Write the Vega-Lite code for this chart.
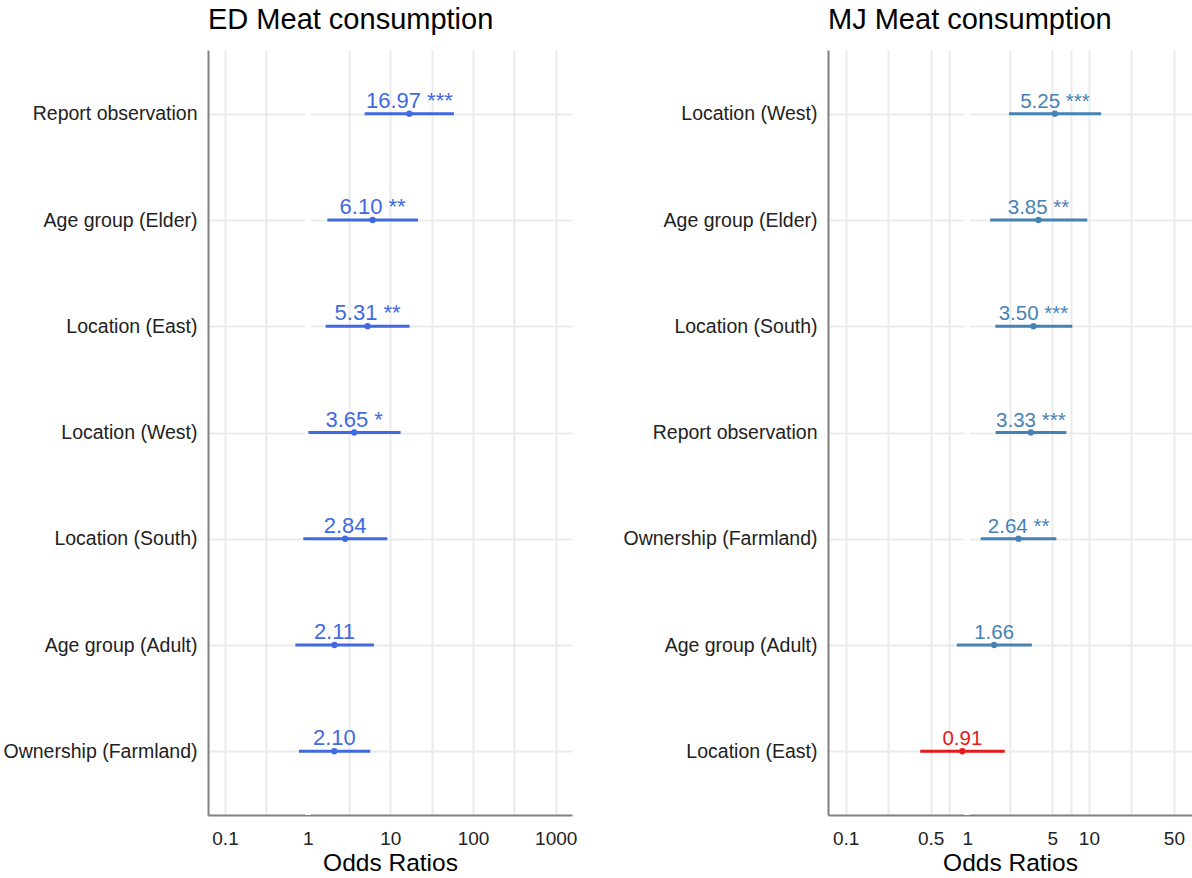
{
  "$schema": "https://vega.github.io/schema/vega-lite/v6.json",
  "background": "white",
  "padding": {"left": 3, "top": 5, "right": 0, "bottom": 5},
  "autosize": {"type": "pad"},
  "datasets": {
    "ed": [
      {"term": "Report observation", "or": 16.97, "lo": 4.89, "hi": 58.7, "label": "16.97 ***"},
      {"term": "Age group (Elder)", "or": 6.10, "lo": 1.73, "hi": 21.6, "label": "6.10 **"},
      {"term": "Location (East)", "or": 5.31, "lo": 1.65, "hi": 17.1, "label": "5.31 **"},
      {"term": "Location (West)", "or": 3.65, "lo": 1.02, "hi": 13.3, "label": "3.65 *"},
      {"term": "Location (South)", "or": 2.84, "lo": 0.885, "hi": 9.17, "label": "2.84"},
      {"term": "Age group (Adult)", "or": 2.11, "lo": 0.71, "hi": 6.33, "label": "2.11"},
      {"term": "Ownership (Farmland)", "or": 2.10, "lo": 0.785, "hi": 5.71, "label": "2.10"}
    ],
    "mj": [
      {"term": "Location (West)", "or": 5.25, "lo": 2.20, "hi": 12.6, "label": "5.25 ***"},
      {"term": "Age group (Elder)", "or": 3.85, "lo": 1.54, "hi": 9.70, "label": "3.85 **"},
      {"term": "Location (South)", "or": 3.50, "lo": 1.70, "hi": 7.30, "label": "3.50 ***"},
      {"term": "Report observation", "or": 3.33, "lo": 1.71, "hi": 6.52, "label": "3.33 ***"},
      {"term": "Ownership (Farmland)", "or": 2.64, "lo": 1.29, "hi": 5.39, "label": "2.64 **"},
      {"term": "Age group (Adult)", "or": 1.66, "lo": 0.82, "hi": 3.39, "label": "1.66"},
      {"term": "Location (East)", "or": 0.91, "lo": 0.41, "hi": 2.03, "label": "0.91"}
    ]
  },
  "config": {
    "font": "Liberation Sans",
    "view": {"stroke": null},
    "axis": {
      "domainColor": "#808080",
      "domainWidth": 2,
      "grid": true,
      "gridColor": "#ebebeb",
      "gridWidth": 2,
      "ticks": false,
      "tickSize": 0,
      "labelColor": "#222222",
      "labelFont": "Liberation Sans",
      "titleFont": "Liberation Sans",
      "titleColor": "#000000",
      "titleFontWeight": "normal"
    },
    "title": {
      "font": "Liberation Sans",
      "fontSize": 29,
      "fontWeight": "normal",
      "color": "#000000",
      "anchor": "start",
      "frame": "group",
      "baseline": "alphabetic",
      "offset": 13
    }
  },
  "bounds": "flush",
  "spacing": 256,
  "hconcat": [
    {
      "title": {"text": "ED Meat consumption", "anchor": "start", "frame": "group"},
      "width": 364,
      "height": 765,
      "data": {"name": "ed"},
      "encoding": {
        "y": {
          "field": "term",
          "type": "nominal",
          "sort": null,
          "scale": {"type": "point", "padding": 0.6},
          "axis": {"title": null, "labelFontSize": 19.5, "labelPadding": 11, "labelLimit": 400, "grid": true}
        },
        "x": {
          "field": "or",
          "type": "quantitative",
          "scale": {"type": "log", "domain": [0.0623, 1574], "nice": false},
          "axis": {
            "title": "Odds Ratios",
            "grid": true,
            "titleFontSize": 24.5,
            "titlePadding": 3,
            "labelFontSize": 19,
            "labelPadding": 14,
            "labelFlush": false,
            "values": [0.1, 0.3162, 1, 3.162, 10, 31.62, 100, 316.2, 1000],
            "format": ".4~g",
            "labelExpr": "indexof([0.1, 1, 10, 100, 1000], datum.value) >= 0 ? datum.label : ''"
          }
        }
      },
      "layer": [
        {
          "mark": {"type": "rule", "color": "white", "strokeWidth": 5},
          "encoding": {
            "x": {"datum": 1, "type": "quantitative"},
            "y": null
          }
        },
        {
          "mark": {"type": "rule", "color": "#4169E1", "strokeWidth": 3},
          "encoding": {
            "x": {"field": "lo", "type": "quantitative"},
            "x2": {"field": "hi"}
          }
        },
        {
          "mark": {"type": "point", "filled": true, "color": "#4169E1", "size": 40, "opacity": 1}
        },
        {
          "mark": {"type": "text", "color": "#4169E1", "fontSize": 22, "baseline": "alphabetic", "dy": -6, "align": "center"},
          "encoding": {
            "text": {"field": "label"}
          }
        }
      ]
    },
    {
      "title": {"text": "MJ Meat consumption", "anchor": "start", "frame": "group"},
      "width": 364,
      "height": 765,
      "data": {"name": "mj"},
      "encoding": {
        "y": {
          "field": "term",
          "type": "nominal",
          "sort": null,
          "scale": {"type": "point", "padding": 0.6},
          "axis": {"title": null, "labelFontSize": 19.5, "labelPadding": 11, "labelLimit": 400, "grid": true}
        },
        "x": {
          "field": "or",
          "type": "quantitative",
          "scale": {"type": "log", "domain": [0.0715, 70.4], "nice": false},
          "axis": {
            "title": "Odds Ratios",
            "grid": true,
            "titleFontSize": 24.5,
            "titlePadding": 3,
            "labelFontSize": 19,
            "labelPadding": 14,
            "labelFlush": false,
            "values": [0.1, 0.2236, 0.5, 0.7071, 1, 2.236, 5, 7.071, 10, 22.36, 50],
            "format": ".4~g",
            "labelExpr": "indexof([0.1, 0.5, 1, 5, 10, 50], datum.value) >= 0 ? datum.label : ''"
          }
        },
        "color": {
          "condition": {"test": "datum.or < 1", "value": "#E41A1C"},
          "value": "#4682B4"
        }
      },
      "layer": [
        {
          "mark": {"type": "rule", "strokeWidth": 5},
          "encoding": {
            "x": {"datum": 1, "type": "quantitative"},
            "y": null,
            "color": {"value": "white"}
          }
        },
        {
          "mark": {"type": "rule", "strokeWidth": 3},
          "encoding": {
            "x": {"field": "lo", "type": "quantitative"},
            "x2": {"field": "hi"}
          }
        },
        {
          "mark": {"type": "point", "filled": true, "size": 40, "opacity": 1}
        },
        {
          "mark": {"type": "text", "fontSize": 20.5, "baseline": "alphabetic", "dy": -6, "align": "center"},
          "encoding": {
            "text": {"field": "label"}
          }
        }
      ]
    }
  ]
}
